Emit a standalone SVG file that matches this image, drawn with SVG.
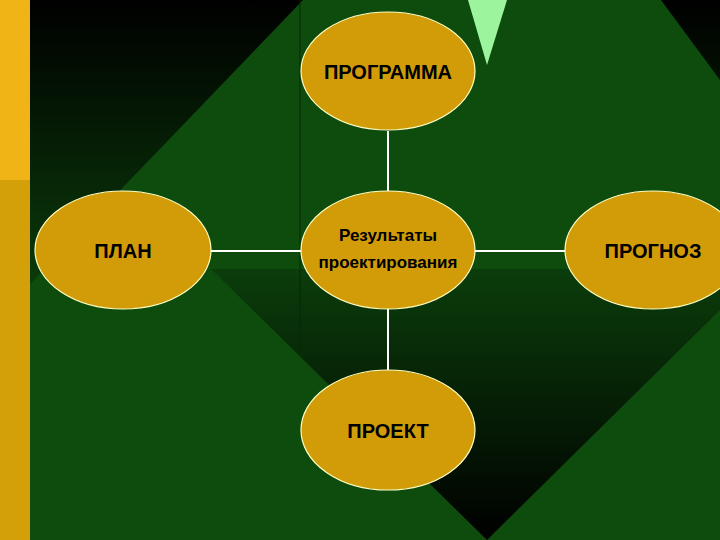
<svg xmlns="http://www.w3.org/2000/svg" width="720" height="540" viewBox="0 0 720 540">
<defs>
<linearGradient id="bg" x1="0" y1="0" x2="0" y2="1"><stop offset="0" stop-color="#000"/><stop offset="0.5" stop-color="#0a380a"/><stop offset="1" stop-color="#0d480d"/></linearGradient>
<linearGradient id="dk" x1="0" y1="0" x2="0" y2="1"><stop offset="0" stop-color="#0b3d0b"/><stop offset="1" stop-color="#000"/></linearGradient>
<style>
.n{fill:#d19c07;stroke:#ffffc0;stroke-width:1.2}
.t{font-family:"Liberation Sans",Arial,sans-serif;font-size:20px;font-weight:bold;fill:#000;text-anchor:middle}
.c{stroke:#fff;stroke-width:2}
</style>
</defs>
<rect x="30" y="0" width="690" height="540" fill="url(#bg)"/>
<polygon points="303,0 661,0 720,80 720,540 30,540 30,284" fill="#0e4c0e"/>
<polygon points="211,269 720,269 720,310 487,540" fill="url(#dk)"/>
<polygon points="468,0 507,0 487,65" fill="#9cf59c"/>
<line x1="300" y1="0" x2="300" y2="355" stroke="#062806" stroke-width="1"/>
<rect x="0" y="0" width="30" height="180" fill="#f0b416"/>
<rect x="0" y="180" width="30" height="360" fill="#d4a00a"/>
<g id="connectors">
<line class="c" x1="388" y1="131" x2="388" y2="191"/>
<line class="c" x1="388" y1="309" x2="388" y2="370"/>
<line class="c" x1="211" y1="251" x2="301" y2="251"/>
<line class="c" x1="475" y1="251" x2="565" y2="251"/>
</g>
<g id="programma"><ellipse class="n" cx="388" cy="71" rx="87" ry="59"/><text class="t" x="388" y="79">ПРОГРАММА</text></g>
<g id="center"><ellipse class="n" cx="388" cy="250" rx="87" ry="59"/><text class="t" x="388" y="241" style="font-size:17px">Результаты</text><text class="t" x="388" y="268" style="font-size:17px">проектирования</text></g>
<g id="plan"><ellipse class="n" cx="123" cy="250" rx="88" ry="59"/><text class="t" x="123" y="258">ПЛАН</text></g>
<g id="prognoz"><ellipse class="n" cx="653" cy="250" rx="88" ry="59"/><text class="t" x="653" y="258">ПРОГНОЗ</text></g>
<g id="proekt"><ellipse class="n" cx="388" cy="430" rx="87" ry="60"/><text class="t" x="388" y="438">ПРОЕКТ</text></g>
</svg>
